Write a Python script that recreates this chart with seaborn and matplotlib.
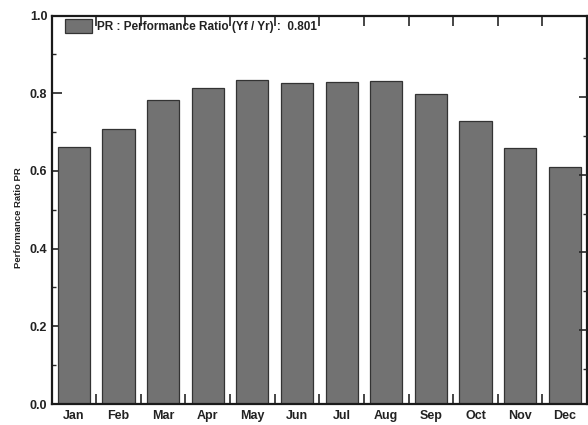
import matplotlib
matplotlib.use("Agg")
import matplotlib.pyplot as plt
from matplotlib.ticker import MultipleLocator, FixedLocator, NullFormatter
import seaborn as sns
import pandas as pd

months = ["Jan", "Feb", "Mar", "Apr", "May", "Jun",
          "Jul", "Aug", "Sep", "Oct", "Nov", "Dec"]
pr = [0.662, 0.709, 0.782, 0.814, 0.835, 0.825,
      0.829, 0.832, 0.797, 0.728, 0.659, 0.609]
pr_year = 0.801
legend_label = f"PR : Performance Ratio (Yf / Yr) :  {pr_year:.3f}"

sns.set_theme(style="white")
plt.rcParams["font.family"] = ["Liberation Sans Narrow", "Liberation Sans", "DejaVu Sans"]

df = pd.DataFrame({"month": months, "pr": pr})

fig = plt.figure(figsize=(5.88, 4.25), dpi=100)
ax = fig.add_axes([0.0876, 0.0494, 0.9107, 0.9141])

sns.barplot(data=df, x="month", y="pr", color="#727272", saturation=1,
            width=0.72, edgecolor="#333333", linewidth=0.9,
            label=legend_label, ax=ax)

ax.set_xlim(-0.5, 11.5)
ax.set_ylim(0.0, 1.0)
ax.set_xlabel("")
ax.set_ylabel("Performance Ratio PR", fontsize=6.8, fontweight="bold",
              color="#222222")
ax.yaxis.set_label_coords(-0.053, 0.479)

# y axis: major every 0.2, minor every 0.1, all ticks pointing inward
ax.yaxis.set_minor_locator(MultipleLocator(0.1))
ax.set_yticks([0.0, 0.2, 0.4, 0.6, 0.8, 1.0])
ax.set_yticklabels(["0.0", "0.2", "0.4", "0.6", "0.8", "1.0"])
ax.tick_params(axis="y", which="major", direction="in", length=7, width=1.2,
               left=True, right=False, labelsize=9, colors="#222222", pad=3)
ax.tick_params(axis="y", which="minor", direction="in", length=3, width=1.0,
               left=True, right=False)
for lab in ax.get_yticklabels():
    lab.set_fontweight("bold")

# x axis: month labels at bar centres, tick marks at month boundaries
ax.xaxis.set_minor_locator(FixedLocator([i + 0.5 for i in range(11)]))
ax.xaxis.set_minor_formatter(NullFormatter())
ax.tick_params(axis="x", which="major", length=0, labelsize=9,
               colors="#222222", pad=4)
ax.tick_params(axis="x", which="minor", direction="in", length=7, width=1.2,
               bottom=True, top=True)
for lab in ax.get_xticklabels():
    lab.set_fontweight("bold")

for side in ["left", "right", "top", "bottom"]:
    ax.spines[side].set_visible(True)
    ax.spines[side].set_color("#1a1a1a")
    ax.spines[side].set_linewidth(1.6)

# secondary scale ticks on the right-hand frame
ax2 = ax.twinx()
ax2.set_ylim(0.01, 1.01)
ax2.yaxis.set_major_locator(FixedLocator([0.2, 0.4, 0.6, 0.8]))
ax2.yaxis.set_minor_locator(FixedLocator([0.1, 0.3, 0.5, 0.7, 0.9]))
ax2.tick_params(axis="y", which="major", direction="in", length=6, width=1.2,
                labelright=False, right=True)
ax2.tick_params(axis="y", which="minor", direction="in", length=3, width=1.0,
                right=True)
ax2.grid(False)
for side in ["left", "right", "top", "bottom"]:
    ax2.spines[side].set_visible(False)

leg = ax.legend(loc="upper left", bbox_to_anchor=(0.025, 0.99), frameon=False,
                fontsize=8.5, handlelength=2.3, handleheight=1.35,
                handletextpad=0.45, borderpad=0, borderaxespad=0)
for t in leg.get_texts():
    t.set_fontweight("bold")
    t.set_color("#222222")

fig.savefig("out.png", dpi=100)
